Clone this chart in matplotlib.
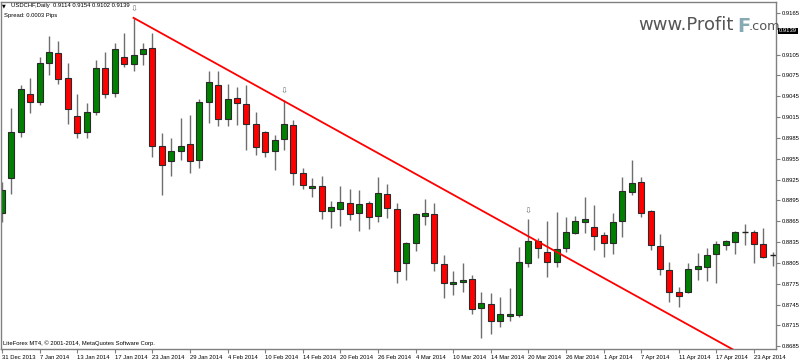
import matplotlib.pyplot as plt

# USDCHF daily candles, 31 Dec 2013 .. 25 Apr 2014
opens = [0.8877, 0.8927, 0.8994, 0.9048, 0.9037, 0.9093, 0.9107, 0.9071, 0.9017, 0.8994,
         0.9022, 0.9086, 0.9050, 0.9102, 0.9092, 0.9106, 0.9115, 0.8973, 0.8952, 0.8966,
         0.8976, 0.8953, 0.9037, 0.9061, 0.9012, 0.9043, 0.9034, 0.9005, 0.8994, 0.8966,
         0.8983, 0.9004, 0.8934, 0.8913, 0.8916, 0.8880, 0.8883, 0.8891, 0.8877, 0.8891,
         0.8872, 0.8904, 0.8883, 0.8805, 0.8834, 0.8872, 0.8875, 0.8803, 0.8774, 0.8778,
         0.8782, 0.8740, 0.8746, 0.8721, 0.8729, 0.8730, 0.8805, 0.8836, 0.8821, 0.8806,
         0.8826, 0.8848, 0.8864, 0.8857, 0.8845, 0.8834, 0.8865, 0.8907, 0.8921, 0.8880,
         0.8829, 0.8795, 0.8763, 0.8763, 0.8796, 0.8799, 0.8818, 0.8831, 0.8835, 0.8850,
         0.8850, 0.8832, 0.8816]
highs = [0.8921, 0.9028, 0.9061, 0.9071, 0.9102, 0.9132, 0.9125, 0.9093, 0.9048, 0.9035,
         0.9097, 0.9109, 0.9122, 0.9136, 0.9158, 0.9122, 0.9136, 0.8992, 0.8985, 0.9014,
         0.9018, 0.9041, 0.9081, 0.9081, 0.9063, 0.9058, 0.9061, 0.9022, 0.8995, 0.8989,
         0.9040, 0.9011, 0.8942, 0.8927, 0.8930, 0.8894, 0.8916, 0.8911, 0.8910, 0.8894,
         0.8929, 0.8919, 0.8891, 0.8835, 0.8877, 0.8897, 0.8891, 0.8816, 0.8793, 0.8805,
         0.8787, 0.8763, 0.8762, 0.8756, 0.8769, 0.8828, 0.8868, 0.8841, 0.8865, 0.8878,
         0.8871, 0.8872, 0.8900, 0.8888, 0.8849, 0.8877, 0.8929, 0.8953, 0.8929, 0.8881,
         0.8847, 0.8806, 0.8770, 0.8805, 0.8819, 0.8826, 0.8836, 0.8838, 0.8851, 0.8861,
         0.8852, 0.8855, 0.8821]
lows = [0.8864, 0.8904, 0.8986, 0.9021, 0.9032, 0.9076, 0.9063, 0.9005, 0.8985, 0.8985,
        0.9018, 0.9043, 0.9044, 0.9087, 0.9081, 0.9090, 0.8958, 0.8903, 0.8930, 0.8953,
        0.8934, 0.8942, 0.9006, 0.9002, 0.9002, 0.9004, 0.8968, 0.8960, 0.8958, 0.8939,
        0.8968, 0.8917, 0.8911, 0.8900, 0.8868, 0.8855, 0.8858, 0.8867, 0.8851, 0.8854,
        0.8864, 0.8870, 0.8776, 0.8780, 0.8822, 0.8860, 0.8793, 0.8754, 0.8759, 0.8763,
        0.8731, 0.8697, 0.8702, 0.8713, 0.8721, 0.8727, 0.8799, 0.8812, 0.8785, 0.8799,
        0.8821, 0.8847, 0.8848, 0.8823, 0.8813, 0.8818, 0.8842, 0.8903, 0.8871, 0.8823,
        0.8787, 0.8749, 0.8741, 0.8762, 0.8780, 0.8779, 0.8776, 0.8823, 0.8818, 0.8831,
        0.8805, 0.8812, 0.8800]
closes = [0.8910, 0.8994, 0.9055, 0.9037, 0.9093, 0.9109, 0.9070, 0.9027, 0.8992, 0.9022,
          0.9086, 0.9048, 0.9113, 0.9092, 0.9104, 0.9113, 0.8973, 0.8946, 0.8966, 0.8973,
          0.8952, 0.9037, 0.9066, 0.9012, 0.9041, 0.9035, 0.9005, 0.8972, 0.8965, 0.8982,
          0.9005, 0.8934, 0.8917, 0.8916, 0.8880, 0.8885, 0.8893, 0.8875, 0.8890, 0.8871,
          0.8906, 0.8884, 0.8793, 0.8834, 0.8875, 0.8877, 0.8805, 0.8776, 0.8778, 0.8780,
          0.8738, 0.8747, 0.8721, 0.8731, 0.8731, 0.8806, 0.8836, 0.8826, 0.8806, 0.8825,
          0.8850, 0.8865, 0.8868, 0.8844, 0.8834, 0.8864, 0.8908, 0.8920, 0.8877, 0.8831,
          0.8796, 0.8763, 0.8757, 0.8796, 0.8800, 0.8816, 0.8832, 0.8836, 0.8850, 0.8850,
          0.8832, 0.8813, 0.8816]

date_pos = [0, 4, 8, 12, 16, 20, 24, 28, 32, 36, 40, 44, 48, 52, 56, 60, 64, 68, 72, 76, 80]
date_labels = ["31 Dec 2013", "7 Jan 2014", "13 Jan 2014", "17 Jan 2014", "23 Jan 2014",
               "29 Jan 2014", "4 Feb 2014", "10 Feb 2014", "14 Feb 2014", "20 Feb 2014",
               "26 Feb 2014", "4 Mar 2014", "10 Mar 2014", "14 Mar 2014", "20 Mar 2014",
               "26 Mar 2014", "1 Apr 2014", "7 Apr 2014", "11 Apr 2014", "17 Apr 2014",
               "23 Apr 2014"]
price_ticks = [0.8685, 0.8715, 0.8745, 0.8775, 0.8805, 0.8835, 0.8865, 0.8895, 0.8925,
               0.8955, 0.8985, 0.9015, 0.9045, 0.9075, 0.9105, 0.9165]

trend_x = [14, 85]
trend_y = [0.9158, 0.8626]
arrow_x = [14, 30, 56]
arrow_y = [0.9170, 0.9052, 0.8880]
last_price = 0.9139

fig = plt.figure(figsize=(8, 3.61), dpi=100)
ax = fig.add_axes([1 / 800, 12 / 361, 775 / 800, 347 / 361])

for i in range(len(opens)):
    o, h, l, c = opens[i], highs[i], lows[i], closes[i]
    ax.vlines(i, l, h, color='#6e6e6e', lw=1, zorder=1)
    if abs(c - o) < 0.00005:
        ax.hlines(o, i - 0.32, i + 0.32, color='#202020', lw=1, zorder=2)
    else:
        col = '#008000' if c > o else '#ff0000'
        ax.bar(i, abs(c - o), bottom=min(o, c), width=0.64, color=col,
               edgecolor='#2a2a2a', lw=0.8, zorder=2)

ax.plot(trend_x, trend_y, color='#ff0000', lw=1.3, zorder=3)
for x, y in zip(arrow_x, arrow_y):
    ax.text(x, y, '\u21e9', ha='center', va='center', fontsize=6, color='#707070')

ax.set_xlim(-0.1, 82.35)
ax.set_ylim(0.86809, 0.91808)

for s in ax.spines.values():
    s.set_color('#808080')
    s.set_linewidth(1)

ax.yaxis.tick_right()
ax.set_yticks(price_ticks)
ax.set_yticklabels([f'{p:.4f}' for p in price_ticks])
ax.set_xticks(date_pos)
ax.set_xticklabels(date_labels)
for lbl in ax.get_xticklabels():
    lbl.set_ha('left')
ax.tick_params(axis='both', labelsize=4.2, length=3, color='#808080', pad=1.5,
               labelfontfamily='Liberation Sans')

small = dict(fontsize=4.2, family='Liberation Sans', color='black', va='center')
fig.text(2 / 800, 1 - 6 / 361, '\u25bc', fontsize=3.5, va='center')
fig.text(11 / 800, 1 - 6 / 361, 'USDCHF,Daily  0.9114 0.9154 0.9102 0.9139', **small)
fig.text(4 / 800, 1 - 15 / 361, 'Spread: 0.0003 Pips', **small)
fig.text(3 / 800, 1 - 343 / 361, 'LiteForex MT4, \u00a9 2001-2014, MetaQuotes Software Corp.', **small)

# current price tag
fig.text(779 / 800, 1 - 31 / 361, f'{last_price:.4f}', fontsize=4.2, family='Liberation Sans',
         color='white', va='center', zorder=5,
         bbox=dict(boxstyle='square,pad=0.15', fc='black', ec='none'))

# watermark
fig.text(638 / 800, 1 - 30 / 361, 'www.Profit', fontsize=13, color='#555555', va='baseline')
fig.text(737 / 800, 1 - 32 / 361, 'F', fontsize=14, color='#86aab2', va='baseline',
         fontweight='bold')
fig.text(749 / 800, 1 - 30 / 361, '.com', fontsize=9.3, color='#555555', va='baseline')

plt.savefig('out.png', dpi=100)
